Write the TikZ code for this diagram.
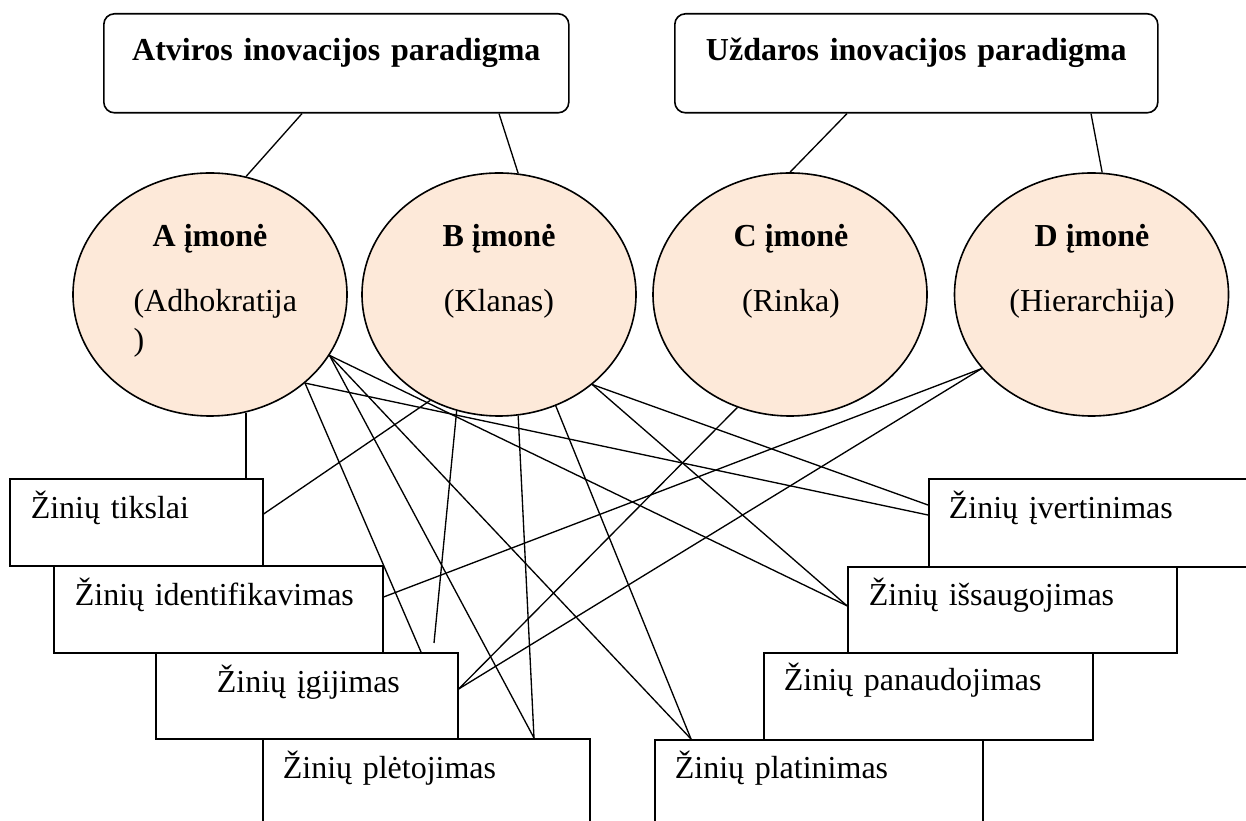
\documentclass[tikz,border=0pt]{standalone}
\usepackage{fontspec}
\setmainfont{Liberation Serif}
\usetikzlibrary{shapes.geometric}
\definecolor{peach}{HTML}{FDE9D9}
\tikzset{
  topbox/.style={draw, line width=0.6pt, rounded corners=4pt, anchor=north west,
    inner sep=0pt, align=center, text height=17.625pt, text depth=19.5pt,
    font=\fontsize{12pt}{14.4pt}\selectfont\bfseries},
  firm/.style={draw, line width=0.6pt, fill=peach, ellipse, minimum width=102.75pt,
    minimum height=91.125pt, inner sep=0pt},
  ftitle/.style={inner sep=0pt, anchor=base, font=\fontsize{12pt}{14.4pt}\selectfont\bfseries},
  ftext/.style={inner sep=0pt, font=\fontsize{12pt}{14.4pt}\selectfont},
  zbox/.style={draw, line width=0.6pt, fill=white, anchor=north west, inner sep=0pt,
    align=left, font=\fontsize{12pt}{14.4pt}\selectfont},
  conn/.style={line width=0.5pt}
}
\begin{document}
\begin{tikzpicture}[x=0.375pt,y=-0.375pt]
\path[use as bounding box, fill=white] (0,0) rectangle (1246,821);

% paradigm boxes
\node[topbox, text width=174.375pt] (atv) at (103,13) {Atviros inovacijos paradigma};
\node[topbox, text width=181.125pt] (uzd) at (674,13) {Uždaros inovacijos paradigma};

% firms
\node[firm] (A) at (210,294.5) {};
\node[firm] (B) at (499,294.5) {};
\node[firm] (C) at (790,294.5) {};
\node[firm] (D) at (1091.5,294.5) {};

\node[ftitle] (At) at (210,247) {A įmonė};
\node[ftext, anchor=base west] (As1) at (133,312) {(Adhokratija};
\node[ftext, anchor=base west] (As2) at (133,351) {)};
\node[ftitle] (Bt) at (499,247) {B įmonė};
\node[ftext, anchor=base] (Bs) at (499,312) {(Klanas)};
\node[ftitle] (Ct) at (791,247) {C įmonė};
\node[ftext, anchor=base] (Cs) at (791,312) {(Rinka)};
\node[ftitle] (Dt) at (1092,247) {D įmonė};
\node[ftext, anchor=base] (Ds) at (1092,312) {(Hierarchija)};

% knowledge boxes
\node[zbox, text width=94.875pt, text height=15pt, text depth=17.625pt] (tik) at (9,478)
  {\hspace*{7.875pt}Žinių tikslai};
\node[zbox, text width=123.375pt, text height=15pt, text depth=17.625pt] (ide) at (53,565)
  {\hspace*{7.875pt}Žinių identifikavimas};
\node[zbox, text width=113.25pt, text height=15pt, text depth=17.25pt] (igi) at (155,652)
  {\hspace*{22.875pt}Žinių įgijimas};
\node[zbox, text width=122.625pt, text height=15pt, text depth=22.5pt] (ple) at (262,738)
  {\hspace*{7.5pt}Žinių plėtojimas};
\node[zbox, text width=123pt, text height=14.625pt, text depth=22.875pt] (pla) at (654,739)
  {\hspace*{7.5pt}Žinių platinimas};
\node[zbox, text width=123.375pt, text height=14.25pt, text depth=18.375pt] (pan) at (763,652)
  {\hspace*{7.5pt}Žinių panaudojimas};
\node[zbox, text width=123.375pt, text height=14.625pt, text depth=17.625pt] (iss) at (847,566)
  {\hspace*{7.875pt}Žinių išsaugojimas};
\node[zbox, text width=127.5pt, text height=15pt, text depth=18pt] (ive) at (928,478)
  {\hspace*{7.5pt}Žinių įvertinimas};

\coordinate (fe) at (434,643);

% paradigm -> firms
\draw[conn] ([xshift=74.625pt]atv.south west) -- (A.73);
\draw[conn] ([xshift=148.5pt]atv.south west) -- (B.81);
\draw[conn] ([xshift=64.875pt]uzd.south west) -- (C.90);
\draw[conn] ([xshift=156.375pt]uzd.south west) -- (D.85);

% A
\draw[conn] (A.-73) -- (A.-73 |- tik.north);
\draw[conn] (A.-27) -- ([yshift=1.5pt]iss.west);
\draw[conn] (A.-27) -- ([xshift=102pt]ple.north west);
\draw[conn] (A.-27) -- ([xshift=13.875pt]pla.north west);
\draw[conn] (A.-43) -- ([yshift=-13.875pt]ive.north west);
\draw[conn] (A.-43) -- ([xshift=99.75pt]igi.north west);

% B
\draw[conn] (B.-123) -- ([yshift=-13.5pt]tik.north east);
\draw[conn] (B.-110) -- (fe);
\draw[conn] (B.-81) -- ([xshift=102pt]ple.north west);
\draw[conn] (B.-63) -- ([xshift=13.875pt]pla.north west);
\draw[conn] (B.-44) -- ([yshift=-10.125pt]ive.north west);
\draw[conn] (B.-44) -- ([yshift=1.5pt]iss.west);

% C
\draw[conn] (C.-115) -- ([yshift=-13.875pt]igi.north east);

% D
\draw[conn] (D.-146) -- ([yshift=-12pt]ide.north east);
\draw[conn] (D.-146) -- ([yshift=-13.875pt]igi.north east);
\end{tikzpicture}
\end{document}
